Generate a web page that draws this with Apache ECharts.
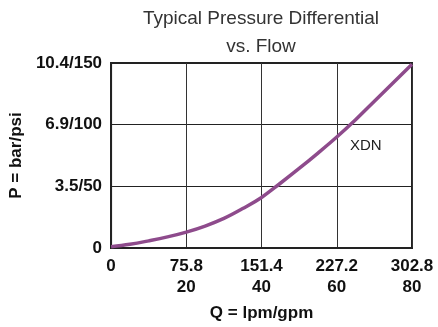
<!DOCTYPE html>
<html>
<head>
<meta charset="utf-8">
<script src="https://cdn.jsdelivr.net/npm/echarts@6/dist/echarts.min.js"></script>
<style>
  html, body { margin: 0; padding: 0; background: #fff; }
  #chart { width: 438px; height: 327px; }
</style>
</head>
<body>
<div id="chart"></div>
<script>
// flow in gpm, pressure in psi
var flowGpm = [0, 5, 10, 15, 20, 25, 30, 35, 40, 45, 50, 55, 60, 65, 70, 75, 80];
var pressurePsi = [1, 3, 5.8, 9, 12.9, 17.8, 24, 32, 41, 52.5, 64.5, 77, 90, 104, 119, 134, 149];

// tick labels
var xTickLabels = { 0: '0', 20: '75.8\n20', 40: '151.4\n40', 60: '227.2\n60', 80: '302.8\n80' };
var yTickLabels = { 0: '0', 50: '3.5/50', 100: '6.9/100', 150: '10.4/150' };

var seriesName = 'XDN';

var chart = echarts.init(document.getElementById('chart'));

var points = flowGpm.map(function (q, i) { return [q, pressurePsi[i]]; });

var font = 'Liberation Sans, Arial, Helvetica, sans-serif';

chart.setOption({
    animation: false,
    title: {
        text: 'Typical Pressure Differential\nvs. Flow',
        left: 256,
        top: 0,
        textAlign: 'center',
        textStyle: { fontFamily: font, fontSize: 19, fontWeight: 'normal', color: '#333', lineHeight: 28 }
    },
    grid: {
        left: 110, right: 26, top: 63, bottom: 76,
        show: true, borderColor: '#222', borderWidth: 2
    },
    xAxis: {
        type: 'value', min: 0, max: 80, interval: 20,
        name: 'Q = lpm/gpm',
        nameLocation: 'middle',
        nameGap: 57,
        nameTextStyle: { fontFamily: font, fontSize: 17, fontWeight: 'bold', color: '#111' },
        axisLine: { show: true, lineStyle: { color: '#222', width: 2 } },
        axisTick: { show: false },
        splitLine: { show: true, lineStyle: { color: '#333', width: 1 } },
        axisLabel: {
            margin: 8,
            fontFamily: font, fontSize: 17, fontWeight: 'bold', color: '#111', lineHeight: 21,
            formatter: function (v) { return xTickLabels[v]; }
        }
    },
    yAxis: {
        type: 'value', min: 0, max: 150, interval: 50,
        name: 'P = bar/psi',
        nameLocation: 'middle',
        nameGap: 86,
        nameTextStyle: { fontFamily: font, fontSize: 17, fontWeight: 'bold', color: '#111' },
        axisLine: { show: true, lineStyle: { color: '#222', width: 2 } },
        axisTick: { show: false },
        splitLine: { show: true, lineStyle: { color: '#222', width: 1 } },
        axisLabel: {
            margin: 9,
            fontFamily: font, fontSize: 17, fontWeight: 'bold', color: '#111',
            formatter: function (v) { return yTickLabels[v]; }
        }
    },
    series: [{
        name: seriesName,
        type: 'line',
        data: points,
        smooth: 0.4,
        showSymbol: false,
        lineStyle: { color: '#8e4b8c', width: 3.5 }
    }],
    graphic: [{
        type: 'text',
        left: 350, top: 138,
        style: { text: seriesName, font: '15px ' + font, fill: '#222' }
    }]
});
</script>
</body>
</html>
